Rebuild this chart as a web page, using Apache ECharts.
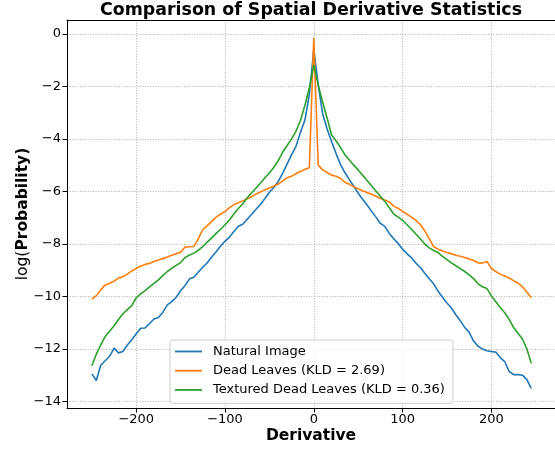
<!DOCTYPE html>
<html>
<head>
<meta charset="utf-8">
<script src="https://cdn.jsdelivr.net/npm/echarts@6/dist/echarts.min.js"></script>
<style>html,body{margin:0;padding:0;background:#fff;}#c{width:555px;height:450px;}</style>
</head>
<body>
<div id="c"></div>
<script>
const xValues = [-250,-245,-240,-235,-230,-225,-220,-215,-210,-205,-200,-195,-190,-185,-180,-175,-170,-165,-160,-155,-150,-145,-140,-135,-130,-125,-120,-115,-110,-105,-100,-95,-90,-85,-80,-75,-70,-65,-60,-55,-50,-45,-40,-35,-30,-25,-20,-15,-10,-5,0,5,10,15,20,25,30,35,40,45,50,55,60,65,70,75,80,85,90,95,100,105,110,115,120,125,130,135,140,145,150,155,160,165,170,175,180,185,190,195,200,205,210,215,220,225,230,235,240,245];

const naturalImage = [-12.95,-13.2,-12.62,-12.45,-12.28,-11.97,-12.15,-12.1,-11.85,-11.65,-11.42,-11.21,-11.2,-11.03,-10.86,-10.8,-10.6,-10.32,-10.2,-10.03,-9.78,-9.58,-9.33,-9.27,-9.07,-8.88,-8.72,-8.5,-8.3,-8.08,-7.9,-7.74,-7.53,-7.33,-7.25,-7.06,-6.87,-6.68,-6.49,-6.27,-6.03,-5.85,-5.62,-5.3,-4.95,-4.6,-4.28,-3.75,-3.28,-2.3,-0.6,-1.95,-3.05,-3.62,-4.1,-4.55,-4.97,-5.28,-5.55,-5.8,-6.07,-6.3,-6.52,-6.75,-6.98,-7.22,-7.33,-7.6,-7.8,-7.98,-8.2,-8.37,-8.53,-8.73,-8.9,-9.12,-9.33,-9.52,-9.8,-10.03,-10.25,-10.44,-10.7,-10.93,-11.18,-11.37,-11.7,-11.9,-12.0,-12.07,-12.1,-12.12,-12.33,-12.48,-12.85,-12.98,-12.98,-13.0,-13.17,-13.5];

const deadLeaves = [-10.1,-9.97,-9.75,-9.56,-9.5,-9.42,-9.3,-9.24,-9.15,-9.03,-8.93,-8.85,-8.78,-8.74,-8.67,-8.61,-8.56,-8.5,-8.43,-8.37,-8.32,-8.12,-8.11,-8.1,-7.8,-7.45,-7.3,-7.14,-6.98,-6.87,-6.76,-6.62,-6.5,-6.43,-6.36,-6.28,-6.2,-6.1,-6.02,-5.94,-5.87,-5.79,-5.72,-5.6,-5.48,-5.42,-5.32,-5.24,-5.16,-5.1,-0.15,-5.0,-5.18,-5.28,-5.38,-5.42,-5.5,-5.65,-5.73,-5.82,-5.9,-5.97,-6.04,-6.11,-6.18,-6.27,-6.33,-6.4,-6.56,-6.64,-6.76,-6.87,-6.98,-7.1,-7.26,-7.5,-7.8,-8.1,-8.2,-8.27,-8.33,-8.37,-8.43,-8.47,-8.52,-8.57,-8.63,-8.72,-8.73,-8.67,-8.93,-9.05,-9.15,-9.22,-9.3,-9.4,-9.49,-9.63,-9.83,-10.05];

const texturedDeadLeaves = [-12.64,-12.2,-11.85,-11.53,-11.33,-11.12,-10.88,-10.66,-10.5,-10.35,-10.05,-9.9,-9.78,-9.64,-9.5,-9.37,-9.2,-9.05,-8.93,-8.82,-8.71,-8.52,-8.42,-8.35,-8.24,-8.1,-7.93,-7.77,-7.6,-7.44,-7.27,-7.09,-6.86,-6.65,-6.47,-6.24,-6.05,-5.87,-5.68,-5.48,-5.3,-5.08,-4.83,-4.5,-4.25,-4.0,-3.7,-3.3,-2.72,-2.05,-1.18,-1.95,-2.6,-3.2,-3.85,-4.07,-4.32,-4.6,-4.8,-5.0,-5.18,-5.38,-5.58,-5.78,-5.98,-6.18,-6.38,-6.62,-6.86,-6.98,-7.1,-7.27,-7.44,-7.62,-7.8,-8.0,-8.15,-8.25,-8.33,-8.47,-8.6,-8.72,-8.83,-8.94,-9.05,-9.18,-9.32,-9.52,-9.63,-9.7,-9.98,-10.2,-10.42,-10.62,-10.87,-11.18,-11.4,-11.62,-12.0,-12.55];

const seriesNames = ['Natural Image', 'Dead Leaves (KLD = 2.69)', 'Textured Dead Leaves (KLD = 0.36)'];
const xTickValues = [-200, -100, 0, 100, 200];
const yTickValues = [-14, -12, -10, -8, -6, -4, -2, 0];

const FONT = 'DejaVu Sans';
const fmt = v => (v < 0 ? '\u2212' + Math.abs(v) : String(v));
const pairs = arr => xValues.map((x, i) => [x, arr[i]]);
const X_MIN = -278, X_MAX = 271.7, Y_MIN = -14.25, Y_MAX = 0.53;

const chart = echarts.init(document.getElementById('c'), null, {renderer: 'canvas'});
chart.setOption({
  animation: false,
  backgroundColor: '#ffffff',
  color: ['#1f77b4', '#ff7f0e', '#2ca02c'],
  title: {
    text: 'Comparison of Spatial Derivative Statistics',
    left: 100, top: 2, padding: 0,
    textStyle: {fontFamily: FONT, fontWeight: 'bold', fontSize: 17.4, color: '#000'}
  },
  grid: {left: 67, top: 20, right: 0, bottom: 42, show: false},
  legend: {
    orient: 'vertical', left: 170, top: 340,
    padding: [4, 8, 6, 5],
    icon: 'rect',
    itemWidth: 27, itemHeight: 1.8, itemGap: 4.2,
    backgroundColor: 'rgba(255,255,255,0.8)',
    borderColor: '#cccccc', borderWidth: 1, borderRadius: 3,
    textStyle: {fontFamily: FONT, fontSize: 13, lineHeight: 15, color: '#000', padding: [0, 0, 0, 6]},
    data: seriesNames
  },
  xAxis: [{
    type: 'value', min: X_MIN, max: X_MAX,
    name: 'Derivative', nameLocation: 'middle', nameGap: 20, nameMoveOverlap: false,
    nameTextStyle: {fontFamily: FONT, fontWeight: 'bold', fontSize: 15.5, color: '#000'},
    axisLine: {show: true, onZero: false, lineStyle: {color: '#000', width: 1}},
    axisTick: {show: true, length: 4.5, inside: false, customValues: xTickValues, lineStyle: {color: '#000'}},
    axisLabel: {customValues: xTickValues, formatter: fmt, margin: 5, fontFamily: FONT, fontSize: 13, color: '#000'},
    splitLine: {show: true, lineStyle: {color: '#b0b0b0', width: 1, type: [1, 1.6]}}
  }, {
    type: 'value', position: 'top', min: X_MIN, max: X_MAX,
    axisLine: {show: true, onZero: false, lineStyle: {color: '#000', width: 1}},
    axisTick: {show: false}, axisLabel: {show: false}, splitLine: {show: false}
  }],
  yAxis: {
    type: 'value', min: Y_MIN, max: Y_MAX,
    name: '{a|log(}{b|Probability)}', nameLocation: 'middle', nameGap: 36, nameRotate: 90,
    nameMoveOverlap: false,
    nameTextStyle: {
      fontFamily: FONT, fontSize: 15.5, color: '#000',
      rich: {
        a: {fontFamily: FONT, fontSize: 15.5, color: '#000'},
        b: {fontFamily: FONT, fontSize: 15.5, fontWeight: 'bold', color: '#000'}
      }
    },
    axisLine: {show: true, onZero: false, lineStyle: {color: '#000', width: 1}},
    axisTick: {show: true, length: 4.5, inside: false, customValues: yTickValues, lineStyle: {color: '#000'}},
    axisLabel: {customValues: yTickValues, formatter: fmt, margin: 6, fontFamily: FONT, fontSize: 13, color: '#000'},
    splitLine: {show: true, lineStyle: {color: '#b0b0b0', width: 1, type: [1, 1.6]}}
  },
  series: [
    {name: seriesNames[0], type: 'line', symbol: 'none', data: pairs(naturalImage), lineStyle: {width: 1.6}},
    {name: seriesNames[1], type: 'line', symbol: 'none', data: pairs(deadLeaves), lineStyle: {width: 1.6}},
    {name: seriesNames[2], type: 'line', symbol: 'none', data: pairs(texturedDeadLeaves), lineStyle: {width: 1.6}}
  ]
});
</script>
</body>
</html>
